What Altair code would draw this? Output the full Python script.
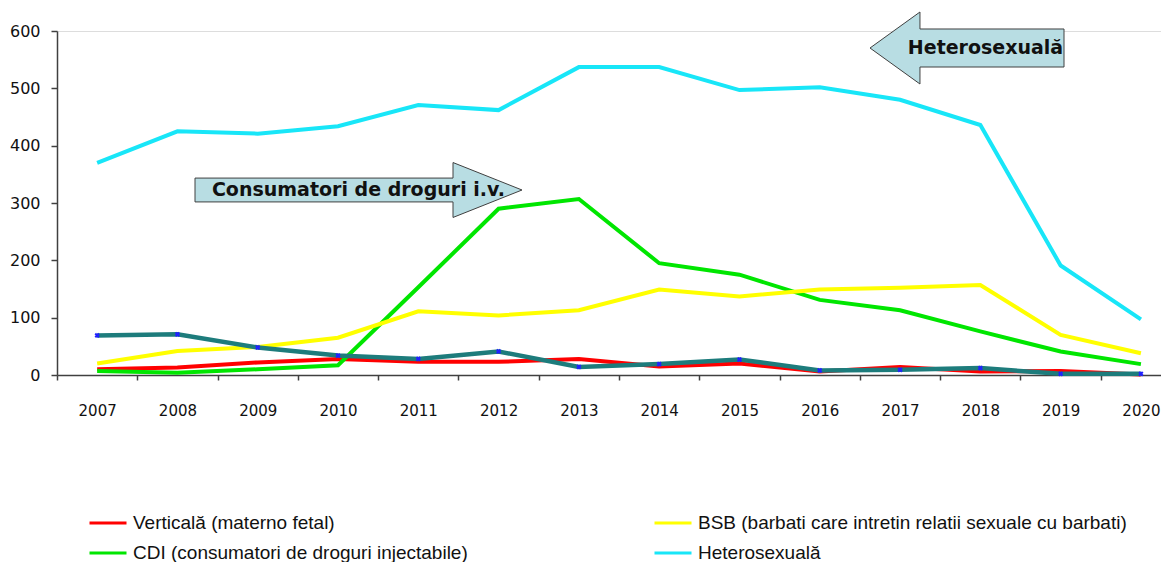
import altair as alt
import pandas as pd

years = list(range(2007, 2021))
verticala = [10, 13, 22, 28, 23, 23, 28, 15, 20, 6, 14, 6, 7, 1]
bsb = [20, 42, 49, 65, 111, 104, 113, 149, 137, 149, 152, 157, 70, 38]
cdi = [7, 4, 10, 17, 153, 290, 307, 195, 175, 131, 113, 76, 41, 19]
hetero = [370, 425, 421, 434, 471, 462, 537, 537, 497, 502, 480, 436, 191, 97]
necunoscuta = [69, 71, 48, 34, 28, 41, 14, 19, 27, 8, 9, 12, 2, 2]

# legend order (column-major): left column first, then right column
series_names = [
    "Verticală (materno fetal)",
    "CDI (consumatori de droguri injectabile)",
    "BSB (barbati care intretin relatii sexuale cu barbati)",
    "Heterosexuală",
]
series_values = [verticala, cdi, bsb, hetero]
series_colors = ["#ff0000", "#00e600", "#ffff00", "#18e6f8"]

rows = []
for name, vals in zip(series_names, series_values):
    for y, v in zip(years, vals):
        rows.append({"year": y, "value": v, "series": name})
df = pd.DataFrame(rows)
df_teal = pd.DataFrame({"year": years, "value": necunoscuta})

W = 1104
H = 344
step = W / 13.75

xscale = alt.Scale(domain=[2006.5, 2020.25], nice=False, zero=False)
yscale = alt.Scale(domain=[0, 600], nice=False)

xaxis = alt.Axis(
    values=years, format="d", title=None, grid=False,
    tickOffset=-step / 2, labelOffset=step / 2,
    tickSize=5, tickColor="#404040", tickWidth=1.5,
    domainColor="#404040", domainWidth=1.5,
    labelFont="DejaVu Sans", labelFontSize=15, labelColor="#111111",
    labelPadding=23, labelFlush=False,
)
yaxis = alt.Axis(
    values=[0, 100, 200, 300, 400, 500, 600], title=None, grid=False,
    tickSize=6, tickColor="#404040", tickWidth=1.5,
    domainColor="#404040", domainWidth=1.5,
    labelFont="DejaVu Sans", labelFontSize=16, labelColor="#111111",
    labelPadding=11,
)

legend = alt.Legend(
    orient="none", legendX=31, legendY=472, columns=2, title=None,
    symbolType="stroke", symbolSize=1369, symbolStrokeWidth=3,
    labelFont="Liberation Sans", labelFontSize=19, labelColor="#111111",
    labelLimit=800, columnPadding=180, rowPadding=-10, labelOffset=5, padding=0,
)

lines = alt.Chart(df).mark_line(strokeWidth=4).encode(
    x=alt.X("year:Q", scale=xscale, axis=xaxis),
    y=alt.Y("value:Q", scale=yscale, axis=yaxis),
    color=alt.Color("series:N", scale=alt.Scale(domain=series_names, range=series_colors),
                    legend=legend),
)

teal_line = alt.Chart(df_teal).mark_line(strokeWidth=4.5, color="#1d7c7c").encode(
    x=alt.X("year:Q", scale=xscale),
    y=alt.Y("value:Q", scale=yscale),
)
teal_pts = alt.Chart(df_teal).mark_point(
    shape="cross", angle=45, filled=True, size=28, color="#2020ff", opacity=1
).encode(
    x=alt.X("year:Q", scale=xscale),
    y=alt.Y("value:Q", scale=yscale),
)

arrow_left = "M-1,0L-0.485,-0.371L-0.485,-0.196L1,-0.196L1,0.196L-0.485,0.196L-0.485,0.371Z"
arrow_right = "M-1,-0.073L0.578,-0.073L0.578,-0.168L1,0L0.578,0.168L0.578,0.073L-1,0.073Z"

base = alt.Chart(pd.DataFrame({"a": [0]}))
arrow1 = base.mark_point(shape=arrow_left, filled=True, fill="#b8dde3", stroke="#404040",
                         strokeWidth=1, opacity=1, size=194 ** 2).encode(
    x=alt.value(910), y=alt.value(17))
arrow2 = base.mark_point(shape=arrow_right, filled=True, fill="#b8dde3", stroke="#404040",
                         strokeWidth=1, opacity=1, size=327 ** 2).encode(
    x=alt.value(301.5), y=alt.value(159))
text1 = base.mark_text(text="Heterosexuală", font="DejaVu Sans", fontWeight="bold",
                       fontSize=19, color="#111111", align="center", baseline="middle").encode(
    x=alt.value(928.5), y=alt.value(17))
text2 = base.mark_text(text="Consumatori de droguri i.v.", font="DejaVu Sans", fontWeight="bold",
                       fontSize=19, color="#111111", align="center", baseline="middle").encode(
    x=alt.value(301.5), y=alt.value(159))

chart = alt.layer(lines, teal_line, teal_pts, arrow1, arrow2, text1, text2).properties(
    width=W, height=H,
    autosize=alt.AutoSizeParams(type="none"),
    padding={"left": 49, "top": 23, "right": 0, "bottom": 187},
).configure_view(stroke=None).configure(background="white")

chart.save("out.html", embed_options={"renderer": "svg", "actions": False})
